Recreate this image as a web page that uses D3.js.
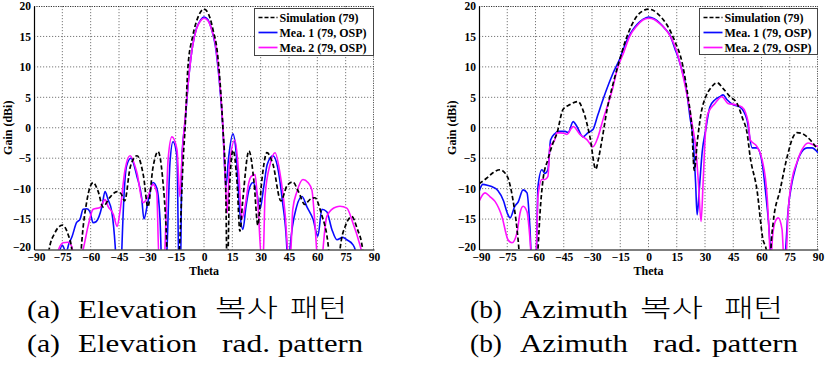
<!DOCTYPE html>
<html><head><meta charset="utf-8">
<script src="https://cdn.jsdelivr.net/npm/d3@7"></script>
<style>body{margin:0;background:#fff} svg{display:block}</style>
</head><body>
<svg id="c" width="827" height="382"></svg>
<script>
// ---------- data ----------
const xTicks = [-90,-75,-60,-45,-30,-15,0,15,30,45,60,75,90];
const yTicks = [-20,-15,-10,-5,0,5,10,15,20];
const seriesNames = ["Simulation (79)","Mea. 1 (79, OSP)","Mea. 2 (79, OSP)"];
const seriesColors = ["#000000","#0a0aff","#ff10ff"];

// Elevation: [theta, gain dBi]
const elevSim = [[-84,-25],[-82,-20],[-79,-17.3],[-75,-16],[-72,-17.5],[-70,-20],[-69,-25],[-66,-25],[-65,-20],[-62,-12],[-58.7,-9],[-56,-10.5],[-53.5,-13],[-50,-11.5],[-46,-10.5],[-44,-10.8],[-42,-12],[-39,-6.4],[-35.5,-4.6],[-32,-8],[-29.7,-13],[-27,-6.5],[-24.3,-3.9],[-22,-8],[-20,-17],[-19,-25],[-14,-25],[-13,-20],[-11,-5],[-10,0],[-8.5,10],[-6,15],[-3,18.3],[0,19.5],[3,18.2],[5,15.8],[7,12.6],[10,0],[11.5,-10],[12.3,-25],[13.5,-10],[15.4,-3.7],[17.5,-9],[19,-17],[20.5,-12],[23.8,-3.8],[26.5,-9],[28.5,-16],[30.5,-9],[33.3,-4.1],[36.5,-6],[40.7,-12],[44,-9.5],[47,-8.9],[50,-10.5],[53.4,-12.6],[56,-11.8],[58.7,-11.5],[62,-14],[66,-20],[67,-25],[71,-25],[72,-20],[75,-16],[78.3,-14.6],[81,-16.5],[84,-20],[85,-25]];
const elevMea1 = [[-77,-21],[-75,-19.3],[-73,-20.5],[-71.5,-19],[-70,-18],[-67.5,-15.6],[-65.6,-15],[-64,-13.4],[-62,-13.3],[-60.4,-13.8],[-58.7,-15.6],[-57,-15.4],[-54,-12.9],[-52.4,-10.5],[-50.8,-11.8],[-48.8,-13.8],[-47,-19.5],[-46,-25],[-44,-25],[-43.5,-20],[-41,-6.3],[-38.7,-5],[-35.5,-8],[-33,-11.5],[-31.8,-15],[-29.7,-12.2],[-27,-9],[-25,-9.9],[-23.3,-15],[-22,-25],[-20.5,-25],[-19.6,-20],[-18,-5.7],[-16.4,-2.3],[-14.3,-4.8],[-13.2,-25],[-12.5,-25],[-11.7,-5],[-10,1],[-8,8.5],[-6,13.5],[-4,16.3],[-2,17.6],[0,18.2],[2,17.8],[4,16.2],[6,13.5],[8,8],[10,0],[11.6,-9.7],[13,-5],[15.3,-1],[17,-4],[19,-14],[20.6,-16.7],[22.2,-13],[23.8,-10.2],[25.9,-9],[28,-10.7],[29.6,-13.4],[31.5,-10],[33.5,-6],[36.5,-4.6],[39,-6.5],[41.5,-12],[43.9,-20],[44.5,-25],[45.5,-20],[49,-13],[51.9,-11.3],[54.5,-13],[57.7,-15],[60.3,-17.8],[62.4,-13.4],[65,-13.8],[67.7,-16.7],[70.4,-18.4],[73.5,-18],[75.6,-18.4],[78.8,-19.2],[80,-20],[81,-22]];
const elevMea2 = [[-78,-21],[-77,-20],[-74.6,-18.9],[-72,-18.8],[-70,-19.5],[-69,-21],[-65,-21],[-64,-20],[-61.4,-16.2],[-58.7,-13.4],[-55,-13.1],[-52.4,-11.8],[-50.8,-12.9],[-48,-14.2],[-46,-16.2],[-44.5,-13.8],[-41.8,-6.9],[-39.2,-4.6],[-35.5,-7.4],[-32.3,-12.3],[-29.7,-11.3],[-27,-9.3],[-25,-10.7],[-23.8,-22],[-21,-22],[-20.7,-20],[-19,-5.2],[-17,-1.5],[-14.3,-3.6],[-12.8,-11.3],[-11.5,-4],[-10,1.5],[-8,8.5],[-6,13.5],[-4,16.2],[-2,17.5],[0,18],[2,17.6],[4,16.2],[6,13.8],[8,8.5],[10,0.2],[11.5,-10],[12.3,-14],[13.5,-6],[16.4,-2],[18.5,-8],[20,-15],[21.7,-13],[23.8,-8.9],[25,-8],[27,-7.7],[28.6,-13],[30.6,-22],[31.5,-20],[32.3,-11.3],[35,-6],[37.6,-4.1],[40.2,-7.4],[42.9,-14],[45,-22],[46,-20],[47,-13.4],[49.2,-10.5],[52.4,-8.5],[55,-9],[57.1,-10.2],[58.7,-15.6],[60.3,-22],[62.5,-22],[63,-20],[65,-14.6],[67.7,-13.4],[70,-13],[72,-12.9],[75.6,-13.2],[78.8,-15.6],[82.6,-19.3],[84,-21]];

// Azimuth: [theta, gain dBi]
const aziSim = [[-90,-9.2],[-86,-8.3],[-82.6,-7.4],[-78.8,-6.9],[-75,-8],[-72,-11.8],[-69.8,-16.7],[-68.8,-20],[-68,-24],[-60,-24],[-58.7,-20],[-57.6,-14],[-56,-8.5],[-53.4,-5.2],[-50.7,-2.5],[-48.6,-0.9],[-45.4,3],[-41.7,3.8],[-37.4,4.3],[-34.8,2.9],[-31.1,-1.5],[-28,-6.8],[-26.5,-5],[-24.7,-2],[-22,3],[-19,7],[-15,11.5],[-12,14.5],[-9,16.8],[-6,18.4],[-3,19.2],[0,19.5],[3,19.2],[6,18.4],[10,16.8],[14,14.2],[18,10.5],[21,5],[23,0],[24.3,-7],[26,-2],[28,2.5],[30.4,5.1],[33,6.5],[36.4,7.4],[40,6.3],[43.3,5.1],[47,4],[50,1.5],[52.3,-0.8],[54,-4.8],[57.6,-10.2],[60.8,-18.4],[62.5,-20],[63,-24],[64.5,-24],[65,-20],[66.2,-15.6],[69.9,-10.2],[73.6,-4.8],[76.8,-1.5],[78.8,-0.8],[81,-0.9],[84.2,-1.5],[87,-2.4],[90,-3.7]];
const aziMea1 = [[-90,-10.5],[-88,-9.3],[-85,-9.5],[-83,-9.7],[-80,-10.3],[-77,-12],[-75,-14],[-73.5,-14.8],[-71,-12.9],[-69.2,-12.2],[-66.6,-10.2],[-64.5,-10.7],[-63,-16.2],[-62,-22],[-60.5,-22],[-59.5,-20],[-58.7,-9.7],[-56.6,-6.9],[-55,-7.5],[-53.4,-6.9],[-52,-2],[-49.8,-1],[-48,-0.6],[-44.3,-0.6],[-42.7,-0.8],[-40,1],[-38,0.2],[-34.8,-1.5],[-32.1,-0.8],[-29.5,-0.3],[-27,2],[-24.2,4.6],[-21,7.3],[-18.8,9],[-15,11.5],[-12,14],[-9,15.8],[-6,17],[-3,17.8],[0,18.2],[3,17.9],[6,17.2],[9,16.2],[11.4,15.2],[14,13],[16.7,10.6],[20.4,5.7],[22,1.8],[23.7,-2],[25,-9],[25.8,-14.3],[27,-10],[28.5,-4],[30.4,-0.3],[32.6,3.4],[35.3,4.6],[38,5.1],[39.6,5.4],[41.7,4.6],[44.9,3.8],[48.6,3.4],[52.3,1.3],[55,-3.3],[57.6,-3.3],[60.3,-5.7],[61.9,-9.7],[63.5,-14.6],[65.6,-22],[72,-22],[72.8,-20],[74,-14],[76.2,-9],[77.8,-6.9],[80.5,-4.4],[84.2,-3.3],[86.8,-3.3],[90,-4.1]];
const aziMea2 = [[-90,-12.1],[-86.8,-10.7],[-84.2,-11.3],[-81.5,-12.1],[-77.8,-14.6],[-74.6,-18.4],[-72.5,-18.9],[-69.8,-17.2],[-68.2,-14],[-66.6,-12.9],[-64.5,-13.8],[-62.9,-18.4],[-62,-22],[-60,-22],[-59.5,-20],[-58.7,-11.3],[-56.6,-8.5],[-55,-8.5],[-53.4,-8],[-52.3,-3.1],[-49.8,-2],[-48.6,-0.8],[-45,-0.9],[-43.3,-1.1],[-40,0.2],[-36.4,-1.1],[-32.6,-2],[-29.5,-3.1],[-26.8,-1.5],[-24,1.5],[-22,3.4],[-19,6.5],[-16.7,9.5],[-13,12.5],[-10,15],[-6,16.8],[-3,17.7],[0,18],[3,17.8],[6,17.1],[9,16.2],[12,14.8],[15,12.5],[18,9],[21,4.5],[23.5,0],[25,-3],[26.5,-9],[27.9,-15.4],[29,-9],[30,-2],[31.6,2.4],[35.3,4],[39,5.1],[42.2,4],[46,3.8],[49.7,3.4],[53,0.8],[54,-2],[57.6,-3.1],[60.3,-5.2],[63,-11.3],[64,-17],[64.8,-22],[66,-17.5],[67.3,-15.4],[68.9,-14.8],[70.9,-16.7],[72,-22],[73.3,-20],[74,-14.6],[76.2,-8.5],[78.8,-5.7],[81.5,-3.6],[84.7,-2.5],[87.4,-2.8],[90,-3.1]];

// ---------- drawing ----------
const svg = d3.select("#c");
const TICK_FONT = "'Liberation Serif','Times New Roman',serif";

function panel(id, box, series, legendBox, gainX) {
  const x = d3.scaleLinear().domain([-90,90]).range([box.x0, box.x1]);
  const y = d3.scaleLinear().domain([-20,20]).range([box.y1, box.y0]);
  const g = svg.append("g");
  g.append("clipPath").attr("id", id).append("rect")
    .attr("x", box.x0).attr("y", box.y0).attr("width", box.x1-box.x0).attr("height", box.y1-box.y0);

  // grid
  g.append("g").selectAll("line").data(xTicks.slice(1,-1)).join("line")
    .attr("x1", d=>x(d)).attr("x2", d=>x(d)).attr("y1", box.y0).attr("y2", box.y1)
    .attr("stroke","#7a7a7a").attr("stroke-width",1).attr("stroke-dasharray","1.2,1.8");
  g.append("g").selectAll("line").data(yTicks.slice(1,-1)).join("line")
    .attr("y1", d=>y(d)).attr("y2", d=>y(d)).attr("x1", box.x0).attr("x2", box.x1)
    .attr("stroke","#7a7a7a").attr("stroke-width",1).attr("stroke-dasharray","1.2,1.8");
  // top/right frame (dotted)
  g.append("line").attr("x1",box.x0).attr("x2",box.x1).attr("y1",box.y0+0.5).attr("y2",box.y0+0.5)
    .attr("stroke","#333").attr("stroke-dasharray","1.2,1.2");
  g.append("line").attr("x1",box.x1-0.5).attr("x2",box.x1-0.5).attr("y1",box.y0).attr("y2",box.y1)
    .attr("stroke","#555").attr("stroke-dasharray","1.2,1.2");

  // lines
  const line = d3.line().x(d=>x(d[0])).y(d=>y(d[1])).curve(d3.curveMonotoneX);
  const lg = g.append("g").attr("clip-path", `url(#${id})`);
  [1,2,0].forEach(idx=>{
    lg.append("path").attr("d", line(series[idx])).attr("fill","none")
      .attr("stroke", seriesColors[idx]).attr("stroke-width", idx===0?1.7:1.6)
      .attr("stroke-dasharray", idx===0?"4.5,2.5":null)
      .attr("stroke-linejoin","round");
  });

  // axes
  const ax = g.append("g").attr("transform",`translate(0,${box.y1})`)
    .call(d3.axisBottom(x).tickValues(xTicks).tickSize(0).tickPadding(3.7));
  const ay = g.append("g").attr("transform",`translate(${box.x0},0)`)
    .call(d3.axisLeft(y).tickValues(yTicks).tickSize(0).tickPadding(3));
  [ax, ay].forEach(a=>{
    a.select(".domain").attr("stroke","#000").attr("stroke-width",1.2);
    a.selectAll("text").attr("font-family",TICK_FONT).attr("font-weight","bold")
      .attr("font-size",11.5).attr("fill","#000");
  });
  ay.selectAll(".tick").filter(d=>d===-20).select("text").attr("dy","0.05em");
  ax.selectAll(".tick").filter(d=>d===-90).select("text").attr("dx","2");

  // axis titles
  g.append("text").attr("x", x(0)).attr("y", box.y1+25.5).attr("text-anchor","middle")
    .attr("font-family",TICK_FONT).attr("font-weight","bold").attr("font-size",12).text("Theta");
  g.append("text").attr("transform",`translate(${gainX},${(box.y0+box.y1)/2}) rotate(-90)`)
    .attr("text-anchor","middle").attr("font-family",TICK_FONT).attr("font-weight","bold")
    .attr("font-size",12).text("Gain (dBi)");

  // legend
  const L = g.append("g");
  L.append("rect").attr("x",legendBox.x).attr("y",legendBox.y).attr("width",legendBox.w).attr("height",legendBox.h)
    .attr("fill","#fff").attr("stroke","#444").attr("stroke-width",1);
  seriesNames.forEach((n,i)=>{
    const yy = legendBox.y + 9 + i*15;
    L.append("line").attr("x1",legendBox.x+4).attr("x2",legendBox.x+23).attr("y1",yy).attr("y2",yy)
      .attr("stroke",seriesColors[i]).attr("stroke-width",1.7)
      .attr("stroke-dasharray", i===0?"4,2":null);
    L.append("text").attr("x",legendBox.x+25).attr("y",yy+4)
      .attr("font-family",TICK_FONT).attr("font-weight","bold").attr("font-size",12).text(n);
  });
}

panel("clipA", {x0:34, x1:374, y0:6, y1:249.5}, [elevSim, elevMea1, elevMea2], {x:254.5,y:8.5,w:119,h:47}, 12);
panel("clipB", {x0:479, x1:818, y0:6, y1:249.5}, [aziSim, aziMea1, aziMea2], {x:699.5,y:8.5,w:118,h:46}, 456);

// captions
const CAP_FONT = "'Liberation Serif','Times New Roman',serif";
const captions = [
  [["(a)",27,33],["Elevation",78,119],["복사",215,63],["패턴",290,57]],
  [["(a)",27,33],["Elevation",78,119],["rad.",222,48],["pattern",278,85]],
  [["(b)",470,32],["Azimuth",520,108],["복사",640,63],["패턴",724,59]],
  [["(b)",470,32],["Azimuth",520,108],["rad.",653,49],["pattern",712,86]]
];
const baselines = [318, 352, 318, 352];
captions.forEach((words,li)=>{
  words.forEach(([t,xx,w])=>{
    const korean = /[\uAC00-\uD7A3]/.test(t);
    svg.append("text").attr("x",xx).attr("y",baselines[li]+(korean?-1:0))
      .attr("font-family", korean ? "'Noto Sans CJK KR',sans-serif" : CAP_FONT)
      .attr("font-size", korean?25:26).attr("font-weight", korean?300:400)
      .attr("textLength", w).attr("lengthAdjust","spacingAndGlyphs").attr("fill","#000").text(t);
  });
});
</script>
</body></html>
